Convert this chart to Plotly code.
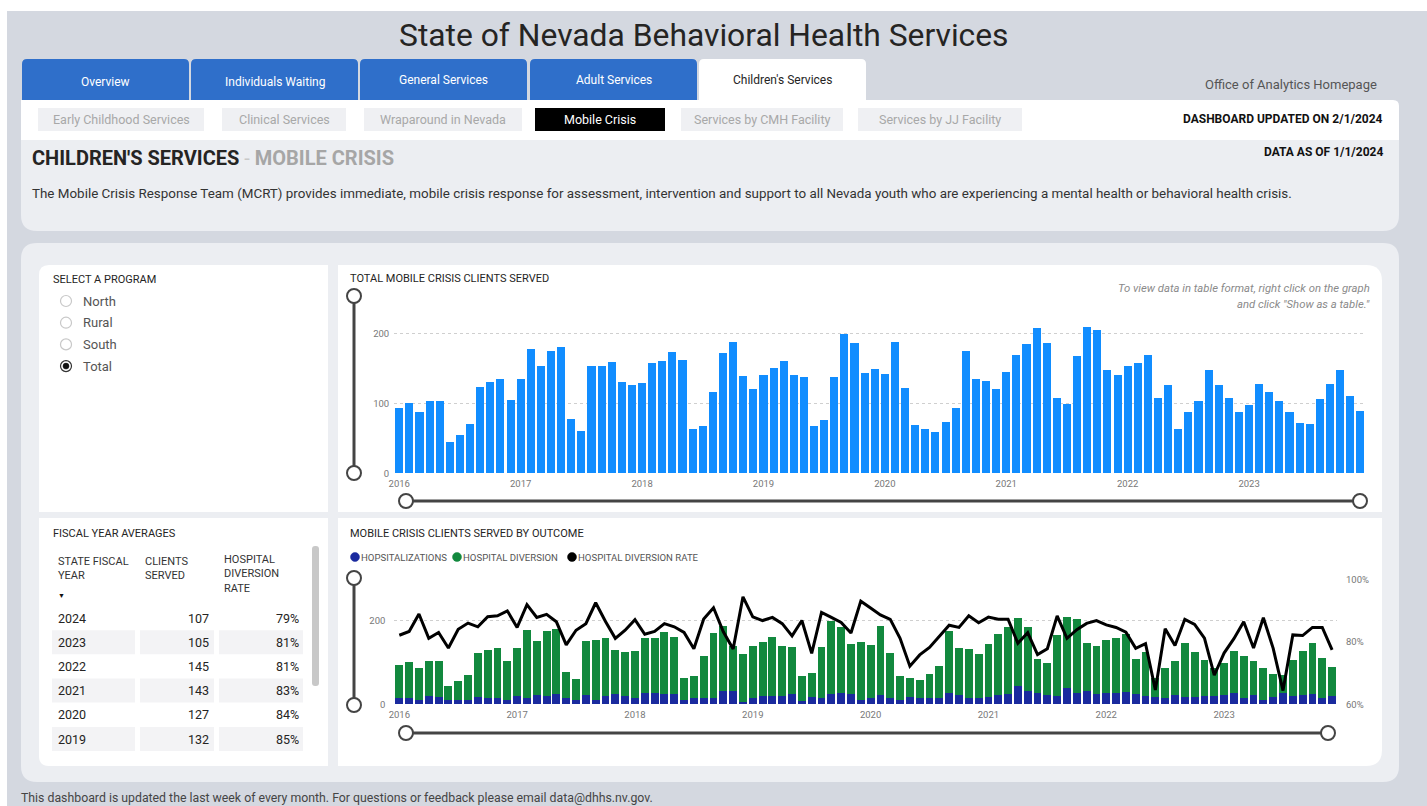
import plotly.graph_objects as go

W, H = 1427, 806
FONT = "Roboto"

# ---- data ----
months = [f"{y}-{m:02d}" for y in range(2016, 2024) for m in range(1, 13)]
year_labels = ["2016", "2017", "2018", "2019", "2020", "2021", "2022", "2023"]

total_clients = [
    94, 101, 88, 104, 104, 45, 55, 70, 124, 131, 135, 105,
    135, 178, 153, 175, 181, 77, 60, 153, 154, 159, 131, 126,
    129, 158, 160, 174, 162, 64, 68, 116, 172, 187, 139, 121,
    140, 150, 161, 141, 137, 67, 76, 138, 199, 186, 144, 149,
    142, 188, 122, 69, 64, 59, 73, 93, 175, 135, 132, 121,
    145, 169, 185, 208, 186, 108, 99, 167, 209, 205, 147, 141,
    154, 158, 169, 108, 126, 63, 88, 104, 147, 126, 107, 88,
    98, 128, 116, 104, 88, 72, 70, 106, 127, 147, 110, 89,
]
hospitalizations = [
    16, 16, 10, 19, 17, 10, 10, 10, 18, 16, 16, 10,
    21, 14, 23, 19, 24, 16, 10, 22, 11, 21, 24, 21,
    16, 28, 27, 24, 24, 10, 14, 15, 16, 31, 31, 6,
    16, 19, 19, 19, 24, 9, 17, 14, 24, 27, 24, 10,
    14, 22, 16, 11, 17, 14, 16, 16, 26, 22, 16, 16,
    18, 22, 24, 43, 31, 27, 22, 20, 40, 28, 31, 24,
    28, 27, 30, 25, 21, 18, 14, 22, 18, 18, 19, 19,
    22, 26, 16, 22, 11, 17, 26, 19, 22, 25, 16, 19,
]
hospital_diversion = [
    78, 85, 78, 85, 87, 35, 45, 60, 106, 115, 119, 95,
    114, 164, 130, 156, 157, 61, 50, 131, 143, 138, 107, 105,
    113, 130, 133, 150, 138, 54, 54, 101, 156, 156, 108, 115,
    124, 131, 142, 122, 113, 58, 59, 124, 175, 159, 120, 139,
    128, 166, 106, 58, 47, 45, 57, 77, 149, 113, 116, 105,
    127, 147, 161, 165, 155, 81, 77, 147, 169, 177, 116, 117,
    126, 131, 139, 83, 105, 45, 74, 82, 129, 108, 88, 69,
    76, 102, 100, 82, 77, 55, 44, 87, 105, 122, 94, 70,
]
diversion_rate = [
    82.1, 83.3, 88.9, 81.1, 83.0, 78.0, 84.0, 86.0, 84.8, 88.0, 88.3, 89.9,
    84.6, 91.9, 87.8, 88.8, 86.4, 79.0, 83.7, 85.8, 92.5, 86.5, 81.1, 83.7,
    87.1, 82.4, 83.3, 85.8, 84.8, 83.0, 77.8, 87.3, 90.9, 83.2, 77.7, 94.4,
    88.0, 86.8, 87.8, 85.8, 81.9, 86.8, 76.3, 89.4, 87.8, 86.2, 82.8, 93.0,
    90.8, 88.6, 87.2, 81.1, 72.2, 75.8, 78.2, 81.7, 85.3, 84.6, 88.3, 86.1,
    87.9, 87.2, 87.2, 79.5, 82.9, 75.9, 77.8, 88.3, 81.1, 83.9, 85.9, 86.8,
    85.4, 84.6, 83.1, 77.9, 79.4, 64.6, 84.2, 78.8, 87.2, 85.6, 81.2, 69.3,
    76.4, 81.0, 86.4, 78.0, 87.7, 77.9, 64.4, 82.2, 82.0, 84.6, 84.6, 77.4,
]

fiscal_years = ["2024", "2023", "2022", "2021", "2020", "2019"]
fy_clients = [107, 105, 145, 143, 127, 132]
fy_rate = [79, 81, 81, 83, 84, 85]

programs = ["North", "Rural", "South", "Total"]
selected_program = "Total"

main_tabs = ["Overview", "Individuals Waiting", "General Services", "Adult Services", "Children's Services"]
sub_tabs = ["Early Childhood Services", "Clinical Services", "Wraparound in Nevada", "Mobile Crisis",
            "Services by CMH Facility", "Services by JJ Facility"]

# ---- helpers (pixel -> paper) ----
def X(v):
    return v / W

def Y(v):
    return 1 - v / H

shapes = []
annotations = []

def rbox(x0, y0, x1, y1, fill, r=(0, 0, 0, 0), line=None):
    tl, tr, br, bl = r
    pts = [f"M{X(x0 + tl)},{Y(y0)}", f"L{X(x1 - tr)},{Y(y0)}"]
    if tr:
        pts.append(f"Q{X(x1)},{Y(y0)} {X(x1)},{Y(y0 + tr)}")
    pts.append(f"L{X(x1)},{Y(y1 - br)}")
    if br:
        pts.append(f"Q{X(x1)},{Y(y1)} {X(x1 - br)},{Y(y1)}")
    pts.append(f"L{X(x0 + bl)},{Y(y1)}")
    if bl:
        pts.append(f"Q{X(x0)},{Y(y1)} {X(x0)},{Y(y1 - bl)}")
    pts.append(f"L{X(x0)},{Y(y0 + tl)}")
    if tl:
        pts.append(f"Q{X(x0)},{Y(y0)} {X(x0 + tl)},{Y(y0)}")
    pts.append("Z")
    shapes.append(dict(type="path", xref="paper", yref="paper", path=" ".join(pts),
                       fillcolor=fill, line=line or dict(width=0), layer="below"))

def circle(cx, cy, rad, fill, color, width=1.5, layer="above"):
    shapes.append(dict(type="circle", xref="paper", yref="paper",
                       x0=X(cx - rad), x1=X(cx + rad), y0=Y(cy + rad), y1=Y(cy - rad),
                       fillcolor=fill, line=dict(color=color, width=width), layer=layer))

def seg(x0, y0, x1, y1, color="#444", width=3):
    shapes.append(dict(type="line", xref="paper", yref="paper",
                       x0=X(x0), x1=X(x1), y0=Y(y0), y1=Y(y1),
                       line=dict(color=color, width=width), layer="above"))

def text(x, y, s, size=12, color="#333", anchor="left", yanchor="middle", family=FONT):
    annotations.append(dict(x=X(x), y=Y(y), xref="paper", yref="paper", text=s, showarrow=False,
                            xanchor=anchor, yanchor=yanchor, align=anchor,
                            font=dict(size=size, color=color, family=family)))

# ---- page frame ----
rbox(0, 0, W, 11, "#ffffff")
rbox(0, 0, 7, H, "#ffffff")

text(704, 35, "State of Nevada Behavioral Health Services", size=31.8, color="#252423", anchor="center")

# main tabs
tab_x = [(22, 189), (191, 358), (360, 527), (530, 697), (699, 866)]
tab_text_y = [82, 82, 80, 80, 80]
for (a, b), ty, name in zip(tab_x, tab_text_y, main_tabs):
    active = name == "Children's Services"
    rbox(a, 59, b, 101, "#ffffff" if active else "#2F6FCA", r=(5, 5, 0, 0))
    text((a + b) / 2, ty, name, size=12, color="#252423" if active else "#ffffff", anchor="center")
text(1379, 85, "Office of Analytics Homepage", size=13, color="#555555", anchor="right")

# white sub-tab strip and header panel
rbox(21, 100, 1399, 141, "#ffffff", r=(0, 6, 0, 0))
rbox(21, 140, 1399, 231, "#eceef2", r=(0, 0, 16, 16))

sub_x = [(38, 204), (222, 346), (364, 522), (535, 665), (681, 843), (858, 1022)]
for (a, b), name in zip(sub_x, sub_tabs):
    active = name == "Mobile Crisis"
    rbox(a, 108, b, 131, "#000000" if active else "#eff0f3")
    text((a + b) / 2, 119.5, name, size=12.5, color="#ffffff" if active else "#a8a8a8", anchor="center")

text(1385, 119, "<b>DASHBOARD UPDATED ON 2/1/2024</b>", size=12, color="#111111", anchor="right")
text(1385, 152, "<b>DATA AS OF 1/1/2024</b>", size=12, color="#111111", anchor="right")
text(30, 158, "<b>CHILDREN'S SERVICES</b> <span style='color:#c8c8c8'>-</span> "
              "<span style='color:#a6a6a6'><b>MOBILE CRISIS</b></span>", size=20, color="#252423")
text(30, 193, "The Mobile Crisis Response Team (MCRT) provides immediate, mobile crisis response for assessment, "
              "intervention and support to all Nevada youth who are experiencing a mental health or behavioral "
              "health crisis.", size=13.4, color="#333333")

# main panel and cards
rbox(21, 243, 1399, 782, "#eceef2", r=(16, 16, 16, 16))
rbox(39, 265, 328, 512, "#ffffff", r=(10, 0, 0, 0))
rbox(39, 518, 328, 766, "#ffffff", r=(0, 0, 0, 10))
rbox(338, 265, 1382, 512, "#ffffff", r=(0, 16, 0, 0))
rbox(338, 518, 1382, 766, "#ffffff", r=(0, 0, 16, 0))

text(19, 798, "This dashboard is updated the last week of every month. For questions or feedback please email "
              "data@dhhs.nv.gov.", size=12.3, color="#444444")

# ---- program selector ----
text(51, 279, "SELECT A PROGRAM", size=11, color="#252423")
for i, p in enumerate(programs):
    cy = 301 + i * 21.7
    sel = p == selected_program
    circle(66, cy, 5.5, "#ffffff", "#333333" if sel else "#c8c8c8", width=1.2)
    if sel:
        circle(66, cy, 3, "#111111", "#111111", width=0.5)
    text(81, cy, p, size=13, color="#555555")

# ---- fiscal year table ----
text(51, 533, "FISCAL YEAR AVERAGES", size=11, color="#252423")
text(56, 568, "STATE FISCAL<br>YEAR", size=11, color="#333333")
text(143, 568, "CLIENTS<br>SERVED", size=11, color="#333333")
text(222, 574, "HOSPITAL<br>DIVERSION<br>RATE", size=11, color="#333333")
text(61, 596, "▼", size=7, color="#111111", anchor="center")
rbox(312, 546, 319, 686, "#c8c8c8", r=(3, 3, 3, 3))
for i, (fy, c, rt) in enumerate(zip(fiscal_years, fy_clients, fy_rate)):
    cy = 618 + i * 24.2
    if i % 2 == 1:
        for a, b in [(52, 135), (140, 214), (219, 303)]:
            rbox(a, cy - 12, b, cy + 12, "#f3f3f5")
    text(56, cy, fy, size=12.5, color="#252423")
    text(211, cy, str(c), size=12.5, color="#252423", anchor="right")
    text(301, cy, f"{rt}%", size=12.5, color="#252423", anchor="right")

# ---- chart titles, notes, legend ----
text(348, 278, "TOTAL MOBILE CRISIS CLIENTS SERVED", size=11, color="#252423")
text(1372, 288, "<i>To view data in table format, right click on the graph</i>", size=11.3, color="#8a8a8a",
     anchor="right")
text(1372, 304, "<i>and click \"Show as a table.\"</i>", size=11.3, color="#8a8a8a", anchor="right")
text(348, 533, "MOBILE CRISIS CLIENTS SERVED BY OUTCOME", size=11, color="#252423")

legend_items = [("HOPSITALIZATIONS", "#1A2A9E", 355), ("HOSPITAL DIVERSION", "#12893E", 457),
                ("HOSPITAL DIVERSION RATE", "#000000", 572)]
for name, col, lx in legend_items:
    circle(lx, 557, 4.5, col, col, width=0.5)
    text(lx + 4, 557, name, size=9.6, color="#555555")

# sliders
seg(354, 296, 354, 473)
circle(354, 296, 7, "#ffffff", "#444444", width=2)
circle(354, 473, 7, "#ffffff", "#444444", width=2)
seg(406, 501, 1360, 501)
circle(406, 501, 7, "#ffffff", "#444444", width=2)
circle(1360, 501, 7, "#ffffff", "#444444", width=2)
seg(354, 578, 354, 705)
circle(354, 578, 7, "#ffffff", "#444444", width=2)
circle(354, 705, 7, "#ffffff", "#444444", width=2)
seg(406, 733, 1328, 733)
circle(406, 733, 7, "#ffffff", "#444444", width=2)
circle(1328, 733, 7, "#ffffff", "#444444", width=2)

# ---- charts ----
fig = go.Figure()

fig.add_trace(go.Bar(x=months, y=total_clients, marker=dict(color="#118DFF", line=dict(width=0)),
                     xaxis="x", yaxis="y", name="Total",
                     hovertemplate="%{x}<br>Clients: %{y}<extra></extra>"))
fig.add_trace(go.Bar(x=months, y=hospitalizations, marker=dict(color="#1A2A9E", line=dict(width=0)),
                     xaxis="x2", yaxis="y2", name="HOPSITALIZATIONS"))
fig.add_trace(go.Bar(x=months, y=hospital_diversion, marker=dict(color="#12893E", line=dict(width=0)),
                     xaxis="x2", yaxis="y2", name="HOSPITAL DIVERSION"))
fig.add_trace(go.Scatter(x=months, y=[r / 100 for r in diversion_rate], mode="lines",
                         line=dict(color="#000000", width=3), xaxis="x2", yaxis="y3",
                         name="HOSPITAL DIVERSION RATE"))

jan_ticks = [m for m in months if m.endswith("-01")]
axis_font = dict(size=9.5, color="#777777", family=FONT)

fig.update_layout(
    width=W, height=H,
    autosize=False,
    margin=dict(l=0, r=0, t=0, b=0, pad=0, autoexpand=False),
    paper_bgcolor="#d4d8e0",
    plot_bgcolor="rgba(0,0,0,0)",
    font=dict(family=FONT, color="#252423"),
    showlegend=False,
    barmode="stack",
    bargap=0.2,
    xaxis=dict(domain=[394.2 / W, 1365.4 / W], anchor="y", type="category",
               tickvals=jan_ticks, ticktext=year_labels, tickfont=axis_font, automargin=False,
               showgrid=False, showline=False, ticks="", zeroline=False, ticklabelstandoff=3),
    yaxis=dict(domain=[Y(473.3), Y(318)], anchor="x", range=[0, 222], automargin=False,
               tickvals=[0, 100, 200], tickfont=axis_font, showgrid=True,
               gridcolor="#cfcfcf", griddash="dot", gridwidth=1, zeroline=False, showline=False,
               ticklabelstandoff=4),
    xaxis2=dict(domain=[394.4 / W, 1337 / W], anchor="y2", type="category", automargin=False,
                tickvals=jan_ticks, ticktext=year_labels, tickfont=axis_font,
                showgrid=False, showline=False, ticks="", zeroline=False, ticklabelstandoff=3),
    yaxis2=dict(domain=[Y(704.3), Y(579.3)], anchor="x2", range=[0, 300], automargin=False,
                tickvals=[0, 200], tickfont=axis_font, showgrid=True,
                gridcolor="#cfcfcf", griddash="dot", gridwidth=1, zeroline=False, showline=False,
                ticklabelstandoff=8),
    yaxis3=dict(overlaying="y2", side="right", anchor="x2", range=[0.6, 1.0], automargin=False,
                tickvals=[0.6, 0.8, 1.0], tickformat=".0%", tickfont=axis_font,
                showgrid=False, zeroline=False, showline=False, ticklabelstandoff=8),
    shapes=shapes,
    annotations=annotations,
)

fig.write_html("out.html", config={"displayModeBar": False, "responsive": False},
               post_script="document.body.style.margin='0';document.body.style.overflow='hidden';")
